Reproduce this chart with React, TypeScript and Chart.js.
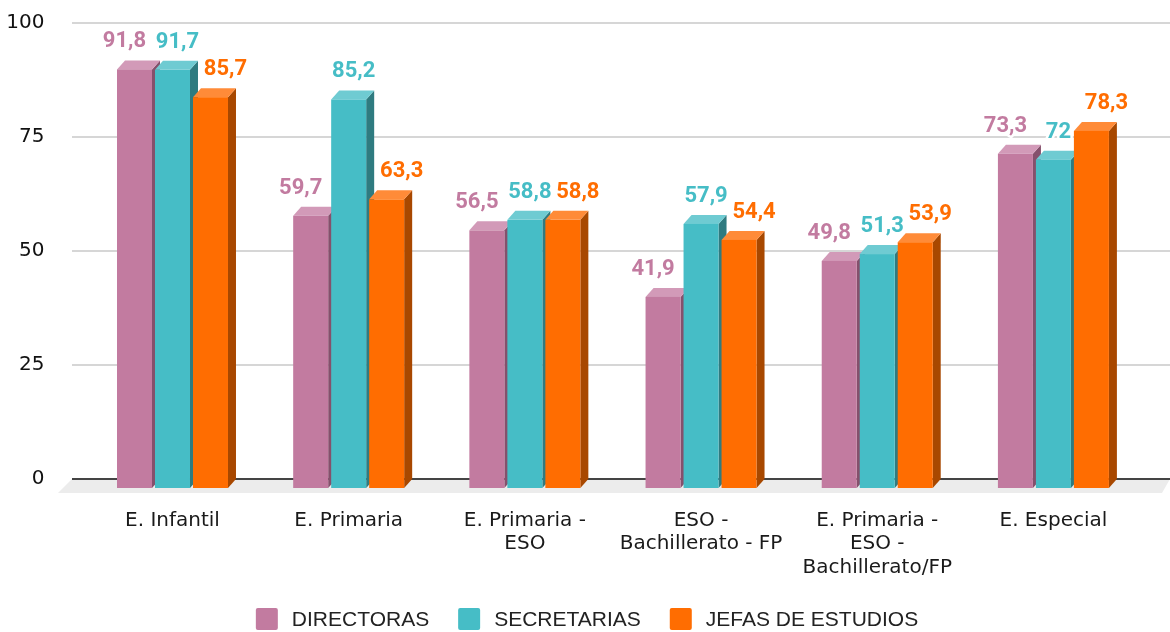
import React, { useEffect, useRef } from 'react';
import { Chart, registerables } from 'chart.js';

Chart.register(...registerables);

const categories: string[][] = [
  ['E. Infantil'],
  ['E. Primaria'],
  ['E. Primaria -', 'ESO'],
  ['ESO -', 'Bachillerato - FP'],
  ['E. Primaria -', 'ESO -', 'Bachillerato/FP'],
  ['E. Especial'],
];
const seriesNames = ['DIRECTORAS', 'SECRETARIAS', 'JEFAS DE ESTUDIOS'];
const directoras = [91.8, 59.7, 56.5, 41.9, 49.8, 73.3];
const secretarias = [91.7, 85.2, 58.8, 57.9, 51.3, 72];
const jefas = [85.7, 63.3, 58.8, 54.4, 53.9, 78.3];
const yTickValues = [0, 25, 50, 75, 100];

const FRONT = ['#c27ba0', '#46bdc6', '#ff6d01'];
const TOPC = ['#d29ab8', '#6fcbd2', '#ff8b38'];
const SIDE = ['#85506c', '#2f7b80', '#a84800'];
const LABEL_SHIFT = [-10, 5, 15];
const DX = 8;
const DY = 9;
const AXIS_FONT = '"DejaVu Sans", "Liberation Sans", sans-serif';
const LEGEND_FONT = '"Liberation Sans", Arial, sans-serif';

const fmt = (v: number) => String(v).replace('.', ',');

const threeD = {
  id: 'threeD',
  beforeDatasetsDraw(chart: any) {
    const { ctx, scales } = chart;
    const y = scales.y;
    const gl = 72;
    const gr = 1170;
    ctx.save();
    // grid lines
    ctx.strokeStyle = '#d6d6d6';
    ctx.lineWidth = 2;
    yTickValues.forEach((v) => {
      if (v === 0) return;
      const py = Math.round(y.getPixelForValue(v));
      ctx.beginPath();
      ctx.moveTo(gl, py);
      ctx.lineTo(gr, py);
      ctx.stroke();
    });
    // floor
    const y0 = Math.round(y.getPixelForValue(0));
    ctx.fillStyle = '#ececec';
    ctx.beginPath();
    ctx.moveTo(gl, y0);
    ctx.lineTo(gr, y0);
    ctx.lineTo(gr - 8, y0 + 14);
    ctx.lineTo(gl - 14, y0 + 14);
    ctx.closePath();
    ctx.fill();
    ctx.strokeStyle = '#444444';
    ctx.lineWidth = 2;
    ctx.beginPath();
    ctx.moveTo(gl, y0);
    ctx.lineTo(gr, y0);
    ctx.stroke();

    // bars
    chart.data.datasets.forEach((ds: any, di: number) => {
      const meta = chart.getDatasetMeta(di);
      meta.data.forEach((el: any) => {
        const p = el.getProps(['x', 'y', 'base', 'width'], true);
        const fl = p.x - p.width / 2;
        const fr = p.x + p.width / 2;
        const ft = p.y + DY;
        const fb = p.base + DY;
        ctx.fillStyle = SIDE[di];
        ctx.beginPath();
        ctx.moveTo(fr, ft);
        ctx.lineTo(fr + DX, ft - DY);
        ctx.lineTo(fr + DX, fb - DY);
        ctx.lineTo(fr, fb);
        ctx.closePath();
        ctx.fill();
        ctx.fillStyle = TOPC[di];
        ctx.beginPath();
        ctx.moveTo(fl, ft);
        ctx.lineTo(fl + DX, ft - DY);
        ctx.lineTo(fr + DX, ft - DY);
        ctx.lineTo(fr, ft);
        ctx.closePath();
        ctx.fill();
        ctx.fillStyle = FRONT[di];
        ctx.fillRect(fl, ft, fr - fl, fb - ft);
      });
    });

    // data labels
    ctx.font = 'bold 22px Roboto, "Noto Sans", sans-serif';
    ctx.textAlign = 'center';
    ctx.textBaseline = 'alphabetic';
    ctx.lineJoin = 'round';
    chart.data.datasets.forEach((ds: any, di: number) => {
      const meta = chart.getDatasetMeta(di);
      meta.data.forEach((el: any, i: number) => {
        const p = el.getProps(['x', 'y'], true);
        const tx = p.x + LABEL_SHIFT[di];
        const ty = p.y - 13;
        const t = fmt(ds.data[i]);
        ctx.strokeStyle = '#ffffff';
        ctx.lineWidth = 5;
        ctx.strokeText(t, tx, ty);
        ctx.fillStyle = FRONT[di];
        ctx.fillText(t, tx, ty);
      });
    });
    ctx.restore();
    return false;
  },
  afterDraw(chart: any) {
    const { ctx } = chart;
    ctx.save();
    ctx.font = '21px ' + LEGEND_FONT;
    const boxW = 22;
    const boxH = 22;
    const gapBox = 14;
    const gapItem = 29;
    const widths = seriesNames.map((n) => ctx.measureText(n).width);
    const total =
      widths.reduce((a, b) => a + b, 0) + seriesNames.length * (boxW + gapBox) + (seriesNames.length - 1) * gapItem;
    let x = 587 - total / 2;
    const cy = 619;
    ctx.textBaseline = 'middle';
    ctx.textAlign = 'left';
    seriesNames.forEach((n, i) => {
      ctx.fillStyle = FRONT[i];
      ctx.beginPath();
      (ctx as any).roundRect(x, cy - boxH / 2, boxW, boxH, 2);
      ctx.fill();
      x += boxW + gapBox;
      ctx.fillStyle = '#222222';
      ctx.fillText(n, x, cy + 1);
      x += widths[i] + gapItem;
    });
    ctx.restore();
  },
};

export default function App() {
  const ref = useRef<HTMLCanvasElement>(null);
  useEffect(() => {
    const chart = new Chart(ref.current as HTMLCanvasElement, {
      type: 'bar',
      data: {
        labels: categories,
        datasets: [
          { label: seriesNames[0], data: directoras, backgroundColor: FRONT[0] },
          { label: seriesNames[1], data: secretarias, backgroundColor: FRONT[1] },
          { label: seriesNames[2], data: jefas, backgroundColor: FRONT[2] },
        ],
      },
      options: {
        animation: false,
        responsive: false,
        devicePixelRatio: 1,
        layout: { autoPadding: false, padding: { left: 0, right: 28.5, top: 23, bottom: 33 } },
        datasets: { bar: { categoryPercentage: 0.647, barPercentage: 0.921 } },
        plugins: { legend: { display: false }, tooltip: { enabled: false } },
        scales: {
          x: {
            grid: { display: false },
            border: { display: false },
            ticks: {
              autoSkip: false,
              maxRotation: 0,
              minRotation: 0,
              padding: 22,
              color: '#1a1a1a',
              font: { family: AXIS_FONT, size: 20, lineHeight: 1.175 },
            },
            afterFit: (s: any) => {
              s.height = 120;
            },
          },
          y: {
            min: 0,
            max: 100,
            grid: { display: false, tickLength: 40 },
            border: { display: false },
            afterBuildTicks: (s: any) => {
              s.ticks = yTickValues.map((v) => ({ value: v }));
            },
            ticks: {
              padding: 0,
              color: '#111111',
              font: { family: AXIS_FONT, size: 20 },
            },
            afterFit: (s: any) => {
              s.width = 84.4;
            },
          },
        },
      },
      plugins: [threeD],
    } as any);
    return () => chart.destroy();
  }, []);
  return (
    <div style={{ position: 'fixed', left: 0, top: 0, width: 1170, height: 632, background: '#ffffff' }}>
      <canvas ref={ref} width={1170} height={632} style={{ display: 'block', width: 1170, height: 632 }} />
    </div>
  );
}
